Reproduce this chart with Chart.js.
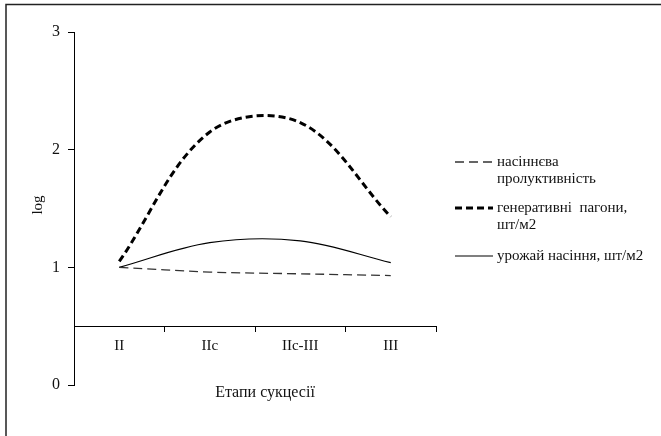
<!DOCTYPE html>
<html>
<head>
<meta charset="utf-8">
<script src="https://cdn.jsdelivr.net/npm/chart.js@4"></script>
<style>
  body { margin: 0; background: #fff; }
  #wrap { width: 661px; height: 436px; }
</style>
</head>
<body>
<div id="wrap"><canvas id="chart" width="661" height="436"></canvas></div>
<script>
const stages = ['II', 'IIc', 'IIc-III', 'III']
const seedProductivity = [1.0, 0.96, 0.945, 0.93]
const generativeShoots = [1.05, 2.15, 2.23, 1.43]
const seedYield = [1.0, 1.21, 1.225, 1.04]
const yTicks = [0, 1, 2, 3]

const serif = "'Liberation Serif', 'Times New Roman', serif"

// legend entries: label lines + line style
const legendItems = [
  { lines: ['насіннєва', 'пролуктивність'], width: 1.3, dash: [9, 5], color: '#333', y: 162 },
  { lines: ['генеративні  пагони,', 'шт/м2'], width: 3, dash: [7, 4], color: '#000', y: 208 },
  { lines: ['урожай насіння, шт/м2'], width: 1.2, dash: [], color: '#000', y: 256 }
]

const extras = {
  id: 'extras',
  afterDraw(c) {
    const ctx = c.ctx
    ctx.save()
    // frame (top + left only)
    ctx.strokeStyle = '#222'
    ctx.lineWidth = 1.5
    ctx.beginPath()
    ctx.moveTo(6, 436)
    ctx.lineTo(6, 4.5)
    ctx.lineTo(661, 4.5)
    ctx.stroke()

    // x axis title
    ctx.fillStyle = '#111'
    ctx.font = '16px ' + serif
    ctx.textAlign = 'center'
    ctx.textBaseline = 'middle'
    ctx.fillText('Етапи сукцесії', 265, 393)

    // y axis title
    ctx.save()
    ctx.translate(38, 205)
    ctx.rotate(-Math.PI / 2)
    ctx.font = '15px ' + serif
    ctx.fillText('log', 0, 0)
    ctx.restore()

    // legend
    ctx.font = '15px ' + serif
    ctx.textAlign = 'left'
    legendItems.forEach(it => {
      ctx.strokeStyle = it.color
      ctx.lineWidth = it.width
      ctx.setLineDash(it.dash)
      ctx.beginPath()
      ctx.moveTo(455, it.y)
      ctx.lineTo(493, it.y)
      ctx.stroke()
      ctx.setLineDash([])
      it.lines.forEach((t, i) => {
        ctx.fillText(t, 497, it.y + i * 17)
      })
    })
    ctx.restore()
  }
}

new Chart(document.querySelector('#chart'), {
  type: 'line',
  data: {
    labels: stages,
    datasets: [
      {
        label: 'насіннєва пролуктивність',
        data: seedProductivity,
        borderColor: '#333',
        borderWidth: 1.3,
        borderDash: [9, 5],
        pointRadius: 0,
        tension: 0.35
      },
      {
        label: 'генеративні пагони, шт/м2',
        data: generativeShoots,
        borderColor: '#000',
        borderWidth: 3,
        borderDash: [7, 4],
        pointRadius: 0,
        tension: 0.35
      },
      {
        label: 'урожай насіння, шт/м2',
        data: seedYield,
        borderColor: '#000',
        borderWidth: 1.2,
        pointRadius: 0,
        tension: 0.35
      }
    ]
  },
  options: {
    responsive: false,
    animation: false,
    layout: { padding: { left: 0, right: 225, top: 32, bottom: 51 } },
    plugins: {
      legend: { display: false },
      tooltip: { enabled: false }
    },
    scales: {
      x: {
        position: { y: 0.5 },
        offset: true,
        grid: { drawOnChartArea: false, offset: true, tickLength: 5, color: '#000' },
        border: { color: '#000', width: 1 },
        ticks: { color: '#111', font: { family: serif, size: 15 }, padding: 6, maxRotation: 0 }
      },
      y: {
        min: 0,
        max: 3,
        afterFit(s) { s.width = 74 },
        afterBuildTicks(s) { s.ticks = yTicks.map(v => ({ value: v })) },
        grid: { drawOnChartArea: false, tickLength: 6, color: '#000' },
        border: { color: '#000', width: 1 },
        ticks: { color: '#111', font: { family: serif, size: 16 }, padding: 8 }
      }
    }
  },
  plugins: [extras]
})
</script>
</body>
</html>
